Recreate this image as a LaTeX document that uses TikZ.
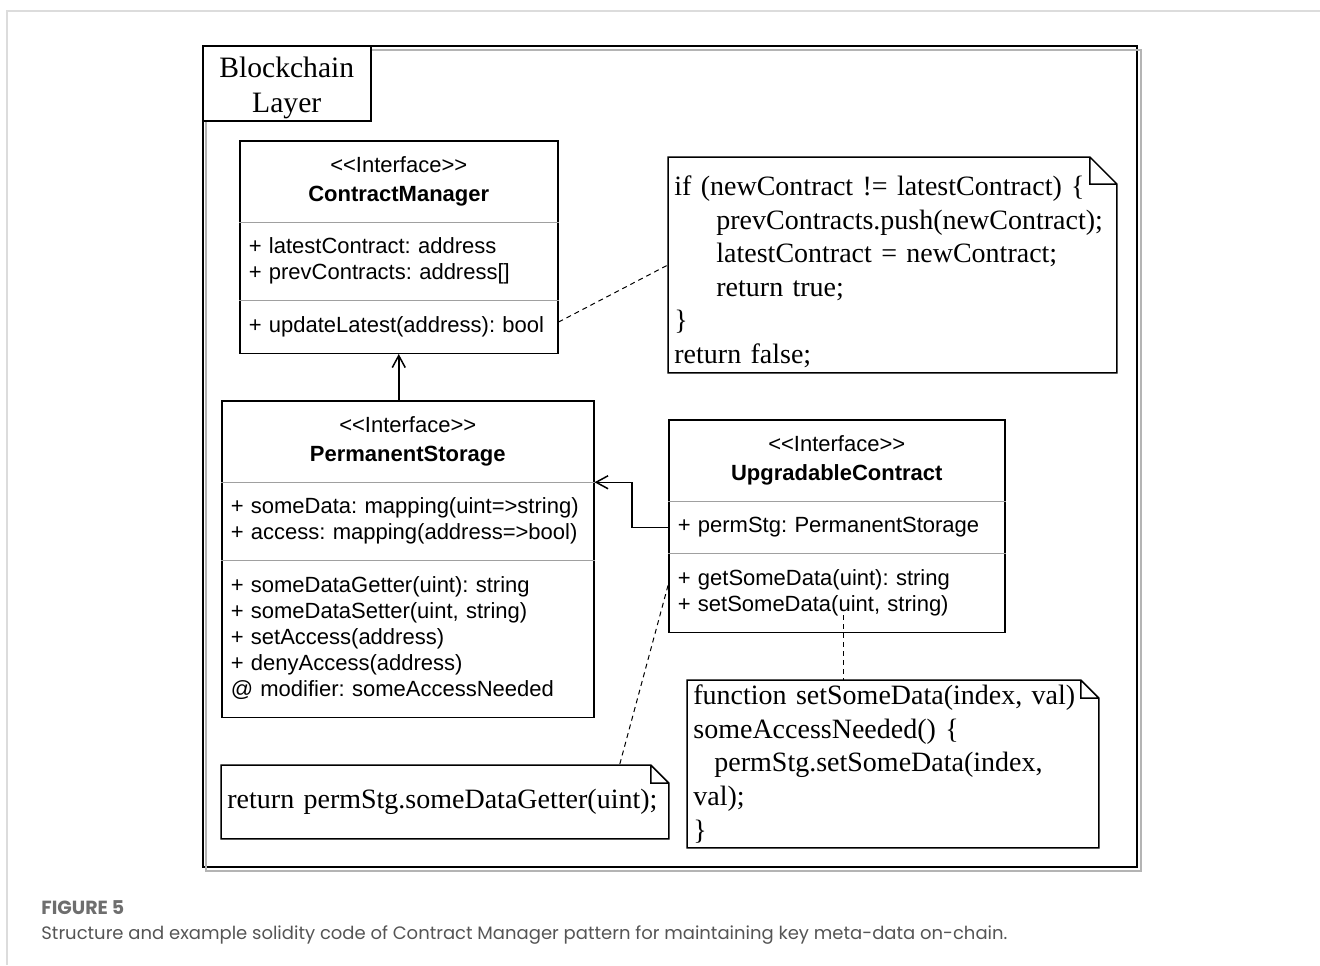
\documentclass[tikz,border=0pt]{standalone}
\usepackage{fontspec}
\usepackage{xcolor}
\usepackage{tikz}
\usetikzlibrary{shapes.multipart, arrows.meta, calc}
\setlength\parindent{0pt}
\frenchspacing
\newfontfamily\umlfont{Liberation Sans}
\newfontfamily\codefont{Liberation Serif}
\newfontfamily\capfont{Poppins}
\definecolor{pagegray}{HTML}{DCDCDC}
\definecolor{framegray}{HTML}{B4B4B4}
\definecolor{splitgray}{HTML}{A0A0A0}
\definecolor{capgray}{HTML}{555555}
\tikzstyle{umlclass} = [rectangle split, rectangle split parts=3,
    rectangle split draw splits=false, draw, line width=0.75pt, fill=white,
    anchor=north west, inner xsep=4.5pt, inner ysep=6.25pt,
    font=\umlfont\fontsize{11}{13}\selectfont]
\tikzstyle{note} = [rectangle, anchor=north west, inner xsep=3pt, inner ysep=0pt,
    align=left, font=\codefont\fontsize{14}{16.8}\selectfont]
\tikzstyle{tab} = [rectangle, draw, line width=0.75pt, fill=white, anchor=north west,
    minimum width=84pt, minimum height=37.5pt, inner sep=0pt, align=center,
    font=\codefont\fontsize{14.8}{17.5}\selectfont]
\tikzstyle{split} = [draw, splitgray, line width=0.5pt]
\tikzstyle{line} = [draw, line width=0.75pt, -{Straight Barb[length=6pt,width=6.5pt]}]
\tikzstyle{link} = [draw, line width=0.5pt, dash pattern=on 2.5pt off 2pt]

\begin{document}
\begin{tikzpicture}[x=0.5pt, y=-0.5pt]
    \useasboundingbox (0,0) rectangle (1320,965);
    \draw [pagegray, line width=0.75pt] (7,965) |- (1320,11);
    % Layer frame
    \node [draw, line width=0.9pt, anchor=north west, inner sep=0pt,
        minimum width=467pt, minimum height=410.5pt] (layer) at (202,45) {};
    \draw [framegray, line width=0.75pt] ([xshift=2pt,yshift=-2.5pt]layer.north west)
        rectangle ([xshift=1.5pt,yshift=-1.5pt]layer.south east);
    \node [tab] (tab) at (202,45) {\rule{0pt}{15pt}Blockchain\\Layer};
    % Classes
    \node [umlclass, text width=150pt] (cm) at (239,140)
        {\centering\strut <{}<Interface>{}>\strut\par\vspace{1.5pt}\strut\textbf{ContractManager}\strut\par
        \nodepart{two}\strut + latestContract: address\\+ prevContracts: address[]\strut
        \nodepart{three}\strut + updateLatest(address): bool\strut\par\vspace{2.5pt}};
    \node [umlclass, text width=177pt] (ps) at (221,400)
        {\centering\strut <{}<Interface>{}>\strut\par\vspace{1.5pt}\strut\textbf{PermanentStorage}\strut\par
        \nodepart{two}\strut + someData: mapping(uint=>string)\\+ access: mapping(address=>bool)\strut
        \nodepart{three}\strut + someDataGetter(uint): string\\+ someDataSetter(uint, string)\\
        + setAccess(address)\\+ denyAccess(address)\\@ modifier: someAccessNeeded\strut\par\vspace{2.5pt}};
    \node [umlclass, text width=159pt] (uc) at (668,419)
        {\centering\strut <{}<Interface>{}>\strut\par\vspace{1.5pt}\strut\textbf{UpgradableContract}\strut\par
        \nodepart{two}\strut + permStg: PermanentStorage\strut
        \nodepart{three}\strut + getSomeData(uint): string\\+ setSomeData(uint, string)\strut};
    \foreach \cls in {cm, ps, uc}
        \path [split] (\cls.text split west) -- (\cls.text split east)
            (\cls.two split west) -- (\cls.two split east);
    % Notes
    \node [note, text width=218pt, minimum height=107.5pt] (cmnote) at (668,157)
        {\rule{0pt}{16.8pt}if (newContract != latestContract) \{\\
        \hspace*{21pt}prevContracts.push(newContract);\\
        \hspace*{21pt}latestContract = newContract;\\
        \hspace*{21pt}return true;\\
        \}\\
        return false;};
    \node [note, text width=217.5pt, minimum height=36.5pt] (getnote) at (221,765)
        {return permStg.someDataGetter(uint);};
    \node [note, text width=199.5pt, minimum height=83.5pt] (setnote) at (687,680)
        {function setSomeData(index, val)\\
        someAccessNeeded() \{\\
        \hspace*{10.5pt}permStg.setSomeData(index,\\
        val);\\
        \}};
    \foreach \n/\f in {cmnote/13.5pt, getnote/9pt, setnote/9pt}
        \draw [line width=0.75pt] (\n.north west) -- ([xshift=-\f]\n.north east)
            -- ([yshift=-\f]\n.north east) -- (\n.south east) -- (\n.south west) -- cycle
            ([xshift=-\f]\n.north east) |- ([yshift=-\f]\n.north east);
    % Edges
    \coordinate (ucattr) at ($(uc.text split west)!0.5!(uc.two split west)$);
    \coordinate (setlink) at ([xshift=3.5pt,yshift=9pt]uc.south);
    \path [line] (cm.south |- ps.north) -- (cm.south);
    \path [line] (ucattr) -- ++(-18pt,0) |- (ps.text split east);
    \path [link] ($(cm.two split east)!0.4!(cm.south east)$) -- (cmnote.west);
    \path [link] ($(uc.two split west)!0.4!(uc.south west)$)
        -- ($(getnote.north west)!0.89!(getnote.north east)$);
    \path [link] (setlink) -- (setlink |- setnote.north);
    % Caption
    \node [anchor=west, inner sep=0pt, text=capgray!85,
        font=\capfont\bfseries\fontsize{9.5}{11}\selectfont] (figlabel) at (41,908) {FIGURE 5};
    \node [anchor=west, inner sep=0pt, text=capgray,
        font=\capfont\fontsize{9}{11}\selectfont] (caption) at (41,935)
        {Structure and example solidity code of Contract Manager pattern for maintaining key meta-data on-chain.};
\end{tikzpicture}
\end{document}
